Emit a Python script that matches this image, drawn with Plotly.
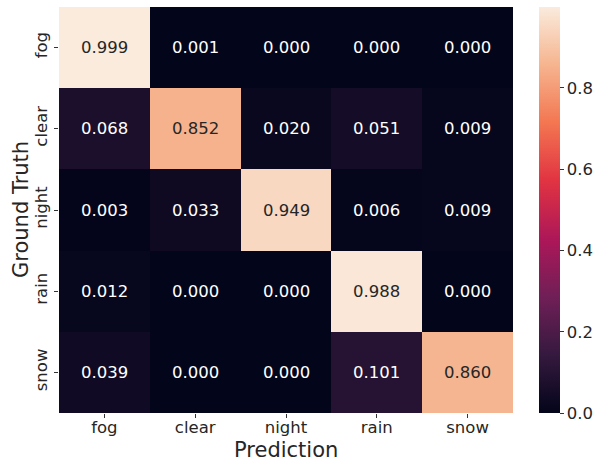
import plotly.graph_objects as go

classes = ["fog", "clear", "night", "rain", "snow"]
matrix = [
    [0.999, 0.001, 0.000, 0.000, 0.000],
    [0.068, 0.852, 0.020, 0.051, 0.009],
    [0.003, 0.033, 0.949, 0.006, 0.009],
    [0.012, 0.000, 0.000, 0.988, 0.000],
    [0.039, 0.000, 0.000, 0.101, 0.860],
]
cbar_ticks = [0.0, 0.2, 0.4, 0.6, 0.8]

rocket = [
    [0.0, "#03051a"],
    [1/7, "#35193e"],
    [2/7, "#701f57"],
    [3/7, "#ad1759"],
    [4/7, "#e13342"],
    [5/7, "#f37651"],
    [6/7, "#f6b48f"],
    [1.0, "#faebdd"],
]

FONT = "DejaVu Sans"
TXT = "#262626"
W, H = 597, 462
L, R, T, B = 59, 84, 7, 49
PW, PH = W - L - R, H - T - B

fig = go.Figure(go.Heatmap(
    z=matrix, x=classes, y=classes,
    colorscale=rocket, zmin=0, zmax=max(max(r) for r in matrix),
    colorbar=dict(
        thickness=21, len=1, lenmode="fraction", y=0.5, yanchor="middle",
        x=(539 - L) / PW, xanchor="left", xpad=0, ypad=0, outlinewidth=0,
        tickvals=cbar_ticks, tickformat=".1f", ticks="outside", ticklen=4,
        tickcolor="#333333", tickfont=dict(family=FONT, size=16.5, color=TXT),
    ),
    hoverinfo="skip",
))

annotations = []
for i, row in enumerate(matrix):
    for j, v in enumerate(row):
        annotations.append(dict(
            x=classes[j], y=classes[i], text=f"{v:.3f}", showarrow=False,
            font=dict(family=FONT, size=16.5, color=TXT if v > 0.5 else "white"),
        ))
annotations.append(dict(
    text="Prediction", xref="paper", yref="paper", x=0.5, y=-(450 - T - PH) / PH,
    xanchor="center", yanchor="middle", showarrow=False,
    font=dict(family=FONT, size=21, color=TXT),
))
annotations.append(dict(
    text="Ground Truth", xref="paper", yref="paper", x=(21 - L) / PW, y=0.5,
    xanchor="center", yanchor="middle", showarrow=False, textangle=-90,
    font=dict(family=FONT, size=21, color=TXT),
))

fig.update_layout(
    width=W, height=H,
    margin=dict(l=L, r=R, t=T, b=B, autoexpand=False),
    paper_bgcolor="white", plot_bgcolor="white",
    annotations=annotations,
    font=dict(family=FONT, color=TXT),
    xaxis=dict(
        tickfont=dict(family=FONT, size=16.5, color=TXT),
        ticks="outside", ticklen=4, tickcolor="#333333", showgrid=False, zeroline=False,
        automargin=False,
    ),
    yaxis=dict(
        tickfont=dict(family=FONT, size=16.5, color=TXT), tickangle=-90,
        ticks="outside", ticklen=4, tickcolor="#333333", showgrid=False, zeroline=False,
        autorange="reversed", automargin=False,
    ),
)
try:
    fig.update_xaxes(ticklabelstandoff=-5)
except Exception:
    pass

fig.write_html(
    "out.html",
    config={"displayModeBar": False},
    post_script="document.body.style.margin='0';document.body.style.overflow='hidden';",
)
